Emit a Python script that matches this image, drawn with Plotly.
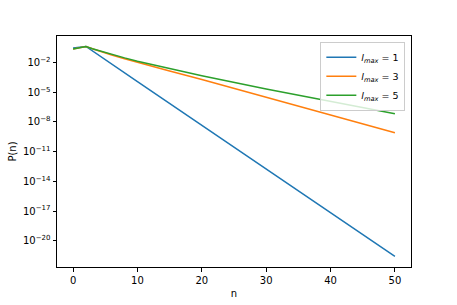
import plotly.graph_objects as go

# Data (P(n) on log scale)
n_blue = [0, 1, 2, 10, 20, 30, 40, 50]
p_blue = [3.0e-01, 3.5e-01, 4.3e-01, 1.23e-04, 4.7e-09, 1.8e-13, 6.8e-18, 2.6e-22]

n_orange = [0, 1, 2, 3, 4, 6, 8, 10, 15, 20, 30, 40, 50]
p_orange = [2.4e-01, 3.3e-01, 4.3e-01, 2.5e-01, 1.5e-01, 6.0e-02, 2.5e-02,
            1.07e-02, 1.4e-03, 2.0e-04, 3.3e-06, 5.4e-08, 8.3e-10]

n_green = [0, 1, 2, 3, 4, 6, 8, 10, 15, 20, 30, 40, 50]
p_green = [2.4e-01, 3.3e-01, 4.3e-01, 2.5e-01, 1.6e-01, 6.8e-02, 3.0e-02,
           1.4e-02, 2.4e-03, 4.7e-04, 2.2e-05, 1.17e-06, 6.6e-08]

series_names = ["<i>l</i><sub><i>max</i></sub> = 1",
                "<i>l</i><sub><i>max</i></sub> = 3",
                "<i>l</i><sub><i>max</i></sub> = 5"]
colors = ["#1f77b4", "#ff7f0e", "#2ca02c"]

ytick_exp = [-2, -5, -8, -11, -14, -17, -20]
ytick_vals = [1e-2, 1e-5, 1e-8, 1e-11, 1e-14, 1e-17, 1e-20]
ytick_text = ["10<sup>\u2212%d</sup>" % (-e) for e in ytick_exp]
xtick_vals = [0, 10, 20, 30, 40, 50]

fig = go.Figure()
for xs, ys, name, c in zip([n_blue, n_orange, n_green],
                           [p_blue, p_orange, p_green],
                           series_names, colors):
    fig.add_trace(go.Scatter(x=xs, y=ys, mode="lines", name=name,
                             line=dict(color=c, width=1.5)))

axis_common = dict(showgrid=False, zeroline=False, showline=True, linecolor="black",
                   linewidth=1, mirror=True, ticks="outside", ticklen=3.5,
                   tickwidth=0.8, tickcolor="black", automargin=False,
                   tickfont=dict(family="DejaVu Sans", size=10, color="black"))

fig.update_layout(
    width=457, height=305,
    margin=dict(l=57, r=46, t=36, b=38),
    paper_bgcolor="white", plot_bgcolor="white",
    font=dict(family="DejaVu Sans", size=10, color="black"),
    xaxis=dict(range=[-2.5, 52.5], tickvals=xtick_vals,
               title=dict(text="n", standoff=5, font=dict(size=10)), **axis_common),
    yaxis=dict(type="log", range=[-22.66, 0.69], tickvals=ytick_vals, ticktext=ytick_text,
               title=dict(text="P(n)", standoff=4, font=dict(size=10)), **axis_common),
    legend=dict(x=0.984, y=0.975, xanchor="right", yanchor="top",
                bgcolor="rgba(255,255,255,0.8)", bordercolor="#cccccc", borderwidth=1,
                font=dict(family="DejaVu Sans", size=9.5), tracegroupgap=0,
                itemwidth=30),
    showlegend=True,
)

fig.write_html("out.html", config={"displayModeBar": False},
               post_script="document.body.style.margin='0px';document.body.style.overflow='hidden';")
